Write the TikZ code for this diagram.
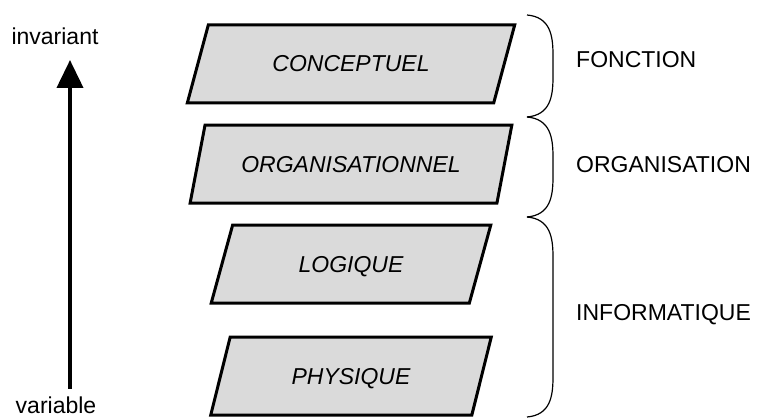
\documentclass[tikz,border=0pt]{standalone}
\usepackage{fontspec}
\setmainfont{Liberation Sans}
\usetikzlibrary{arrows.meta,positioning,shapes.geometric}
\definecolor{layerfill}{RGB}{218,218,218}
% curly brace on the right, from y #1 down to y #2
\newcommand{\sidebrace}[2]{%
  \draw[line width=1.2pt] (527,#1) .. controls (550,#1+2) and (553,#1+20) .. (553,#1+40)
    -- (553,#2-40) .. controls (553,#2-20) and (550,#2-2) .. (527,#2);}

\begin{document}
\begin{tikzpicture}[x=1pt, y=-1pt,
    font=\fontsize{23}{27}\selectfont,
    layer/.style={trapezium, trapezium stretches=true, draw, line width=3pt,
                  fill=layerfill, minimum height=78pt, text height=16pt, text depth=0pt,
                  font=\fontsize{23}{27}\selectfont\itshape},
    side/.style={anchor=base west, inner sep=0pt},
  ]
  \useasboundingbox (0,0) rectangle (761,419);

  \node[layer, minimum width=328pt, trapezium left angle=62, trapezium right angle=118]
    (concept) at (351,64) {CONCEPTUEL};
  \node[layer, minimum width=323pt, trapezium left angle=63, trapezium right angle=117,
        below=19pt of concept] (orga) {ORGANISATIONNEL};
  \node[layer, minimum width=280pt, trapezium left angle=66, trapezium right angle=114,
        below=19pt of orga] (logique) {LOGIQUE};
  \node[layer, minimum width=281pt, trapezium left angle=66, trapezium right angle=114,
        below=31pt of logique] (physique) {PHYSIQUE};

  % levels
  \sidebrace{15}{117}
  \sidebrace{117}{217}
  \sidebrace{217}{417}
  \node[side] (fonction) at (576,68) {FONCTION};
  \node[side] (organisation) at (576,173) {ORGANISATION};
  \node[side] (informatique) at (576,321) {INFORMATIQUE};

  % stability axis
  \node[anchor=base] (invariant) at (55,45) {invariant};
  \node[anchor=base, inner sep=0pt] (variable) at (56,414) {variable};
  \coordinate (low) at (70,389);
  \coordinate (high) at (70,60);
  \draw[-{Triangle[width=26pt,length=28pt]}, line width=4pt] (low) -- (high);
\end{tikzpicture}
\end{document}
